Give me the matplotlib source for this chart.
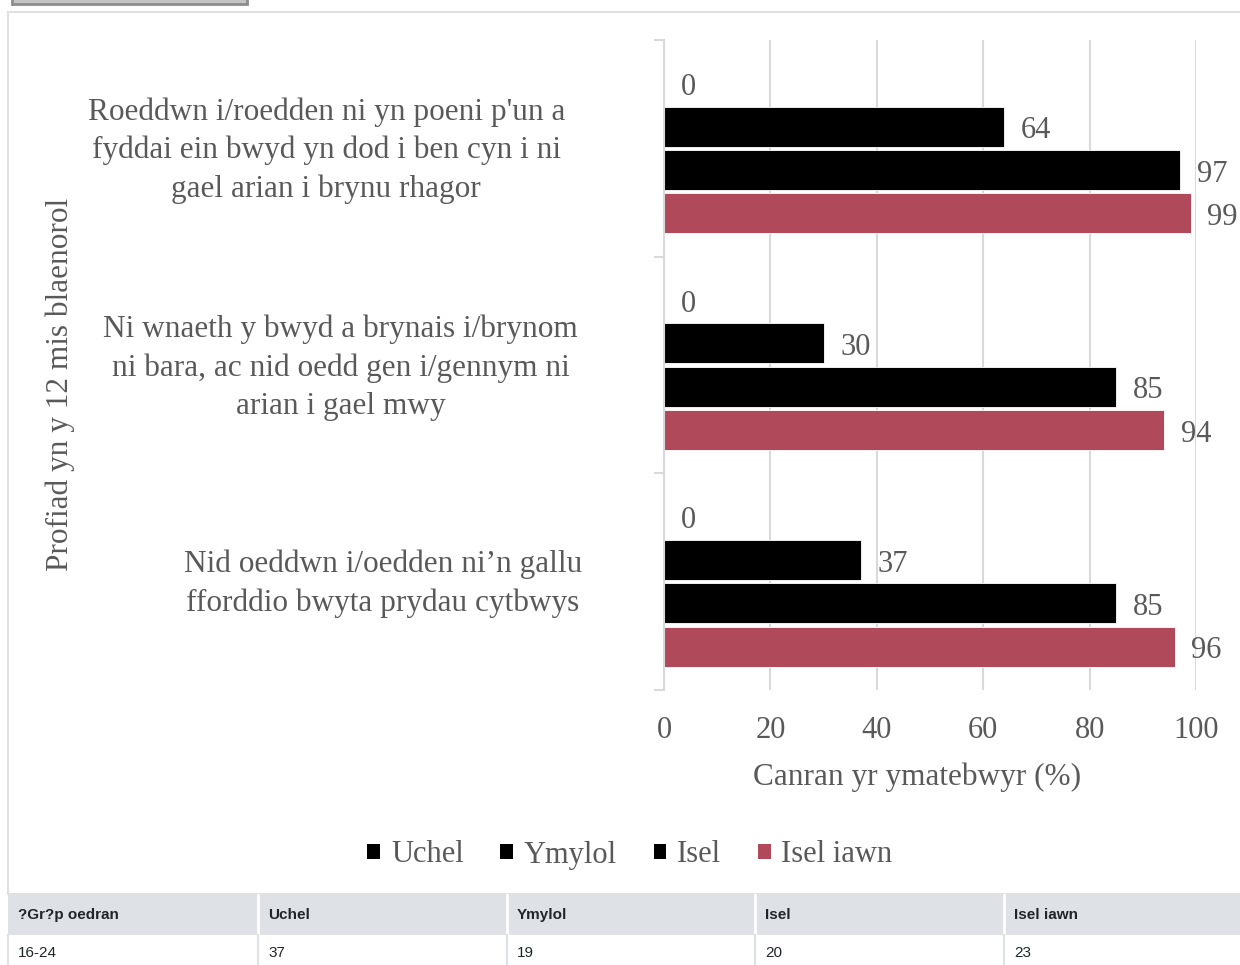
import matplotlib
matplotlib.use('Agg')
import matplotlib.pyplot as plt
from matplotlib.patches import Rectangle, Patch
from matplotlib.transforms import ScaledTranslation
import numpy as np

# Data
categories = [
    "Roeddwn i/roedden ni yn poeni p'un a\nfyddai ein bwyd yn dod i ben cyn i ni\ngael arian i brynu rhagor",
    "Ni wnaeth y bwyd a brynais i/brynom\nni bara, ac nid oedd gen i/gennym ni\narian i gael mwy",
    "Nid oeddwn i/oedden ni\u2019n gallu\nfforddio bwyta prydau cytbwys",
]
series_names = ['Uchel', 'Ymylol', 'Isel', 'Isel iawn']
uchel = [0, 0, 0]
ymylol = [64, 30, 37]
isel = [97, 85, 85]
isel_iawn = [99, 94, 96]
series_colors = ['#000000', '#000000', '#000000', '#B04A5A']

table_header = ['?Gr?p oedran', 'Uchel', 'Ymylol', 'Isel', 'Isel iawn']
table_row = ['16-24', '37', '19', '20', '23']

W, H = 1240, 965
TXT = '#595959'
GRID = '#d9d9d9'
SERIF = 'Liberation Serif'


def fx(x):
    return x / W


def fy(y):
    return 1 - y / H


fig = plt.figure(figsize=(W / 100, H / 100), dpi=100)

# grey button at the very top (cut off) and the chart panel frame
fig.patches.append(Rectangle((fx(12), fy(4)), fx(235), 20 / H, transform=fig.transFigure,
                             facecolor='#c4c4c4', edgecolor='#8c8c8c', lw=2, zorder=-5))
fig.patches.append(Rectangle((fx(8), fy(894)), fx(1240), (894 - 12) / H, transform=fig.transFigure,
                             facecolor='white', edgecolor='#e0e0e0', lw=1.5, zorder=-5))

ax = fig.add_axes([fx(664), fy(690), fx(1196 - 664), (690 - 40) / H])
ax.set_facecolor('none')

y = np.arange(len(categories))
bar_h = 0.185
offsets = [-0.3, -0.1, 0.1, 0.3]
all_vals = [uchel, ymylol, isel, isel_iawn]
for name, vals, off, col in zip(series_names, all_vals, offsets, series_colors):
    bars = ax.barh(y + off, vals, height=bar_h, color=col, edgecolor='white', lw=0.6,
                   label=name, zorder=2)
    anns = ax.bar_label(bars, labels=[str(v) for v in vals], padding=12, fontsize=22,
                        color=TXT, family=SERIF)
    for a in anns:
        a.xyann = (12, -3)

ax.set_xlim(0, 100)
ax.set_ylim(2.5, -0.5)
ax.set_xticks(range(0, 101, 20))
ax.xaxis.grid(True, color=GRID, lw=1.5, zorder=0)
ax.set_axisbelow(True)
ax.tick_params(axis='x', length=0, pad=19, labelsize=22, labelcolor=TXT)
for lab in ax.get_xticklabels():
    lab.set_family(SERIF)

ax.set_yticks(y)
ax.set_yticklabels(categories, family=SERIF, fontsize=22.5, color=TXT,
                   multialignment='center', linespacing=1.4)
ax.tick_params(axis='y', which='major', length=0, pad=62)
ax.set_yticks([-0.5, 0.5, 1.5, 2.5], minor=True)
ax.tick_params(axis='y', which='minor', length=7, color=GRID, width=1.5)
# small per-label nudges (pixels) to sit like the original wrapped text
label_shift = [(-13, 6), (0, 5), (4, 6)]
for lab, (dx, dy) in zip(ax.get_yticklabels(), label_shift):
    lab.set_transform(lab.get_transform() + ScaledTranslation(dx / 100, dy / 100, fig.dpi_scale_trans))

for s in ['top', 'right', 'bottom']:
    ax.spines[s].set_visible(False)
ax.spines['left'].set_color(GRID)
ax.spines['left'].set_linewidth(1.5)

ax.set_xlabel('Canran yr ymatebwyr (%)', family=SERIF, fontsize=22.5, color=TXT, labelpad=12,
              x=(917 - 664) / (1196 - 664))
fig.text(fx(60), fy(384), 'Profiad yn y 12 mis blaenorol', rotation=90, ha='center', va='center',
         family=SERIF, fontsize=22.5, color=TXT)

handles = [Patch(facecolor=c, edgecolor='none') for c in series_colors]
fig.legend(handles, series_names, loc='center', bbox_to_anchor=(fx(630), fy(855)), ncol=4,
           frameon=False, prop={'family': SERIF, 'size': 22}, labelcolor=TXT,
           handlelength=0.42, handleheight=0.38, handletextpad=0.35, columnspacing=1.2)

# data table under the chart
col_x = [8, 258, 507, 755, 1004, 1250]
fig.patches.append(Rectangle((fx(8), fy(935)), fx(1240), 40 / H, transform=fig.transFigure,
                             facecolor='#dee2e6', edgecolor='none'))
for cx in col_x[1:-1]:
    fig.add_artist(plt.Line2D([fx(cx), fx(cx)], [fy(935), fy(895)], transform=fig.transFigure,
                              color='white', lw=2))
    fig.add_artist(plt.Line2D([fx(cx), fx(cx)], [fy(965), fy(935)], transform=fig.transFigure,
                              color='#dee2e6', lw=1.5))
fig.add_artist(plt.Line2D([fx(8), fx(8)], [fy(965), fy(935)], transform=fig.transFigure,
                          color='#dee2e6', lw=1.5))
for cx, head, val in zip(col_x, table_header, table_row):
    fig.text(fx(cx + 10), fy(915), head, ha='left', va='center', family='Liberation Sans',
             fontsize=11, fontweight='bold', color='#212529')
    fig.text(fx(cx + 10), fy(953), val, ha='left', va='center', family='Liberation Sans',
             fontsize=11, color='#212529')

fig.savefig('out.png', dpi=100)
